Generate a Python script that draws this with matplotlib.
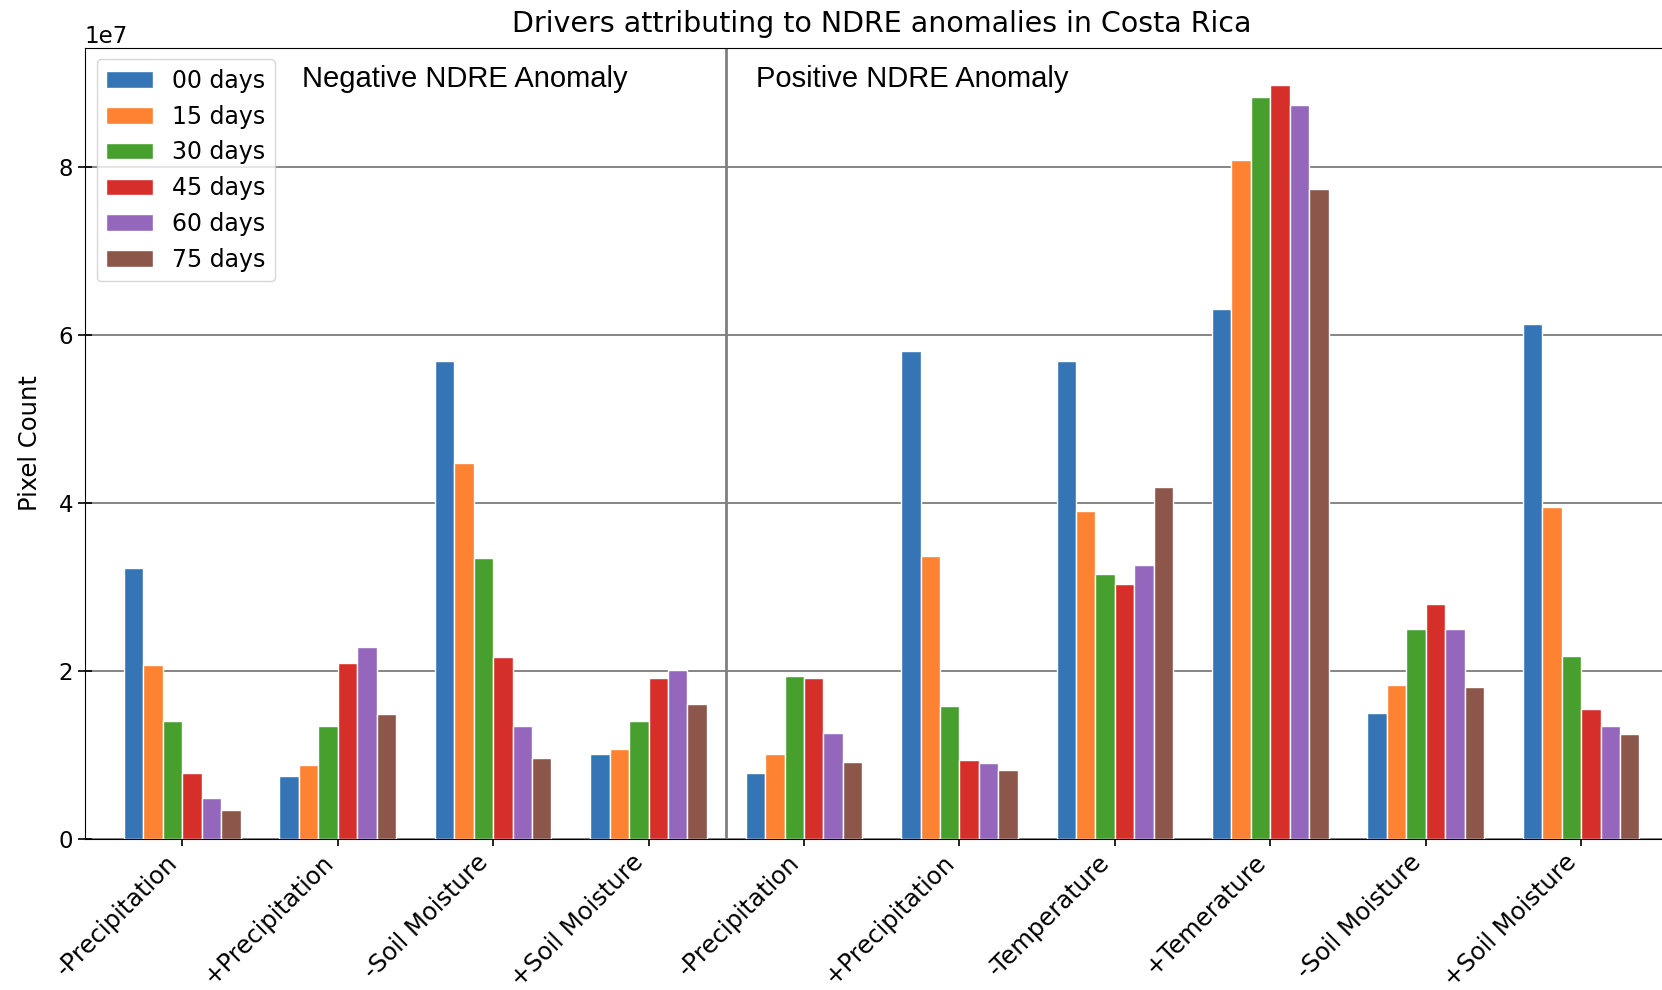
import numpy as np
import matplotlib
matplotlib.use("Agg")
import matplotlib.pyplot as plt

categories = ["-Precipitation", "+Precipitation", "-Soil Moisture", "+Soil Moisture",
              "-Precipitation", "+Precipitation", "-Temperature", "+Temerature",
              "-Soil Moisture", "+Soil Moisture"]
lags = ["00 days", "15 days", "30 days", "45 days", "60 days", "75 days"]

# pixel counts per driver (x1e7), one list per lag
days_00 = [3.22, 0.74, 5.68, 1.01, 0.78, 5.80, 5.68, 6.30, 1.50, 6.13]
days_15 = [2.07, 0.87, 4.47, 1.07, 1.01, 3.36, 3.90, 8.08, 1.83, 3.95]
days_30 = [1.40, 1.34, 3.34, 1.40, 1.94, 1.58, 3.15, 8.83, 2.49, 2.17]
days_45 = [0.78, 2.09, 2.16, 1.91, 1.91, 0.93, 3.03, 8.97, 2.79, 1.54]
days_60 = [0.48, 2.28, 1.34, 2.01, 1.26, 0.90, 3.26, 8.73, 2.49, 1.34]
days_75 = [0.34, 1.48, 0.96, 1.60, 0.91, 0.82, 4.18, 7.73, 1.80, 1.25]

series = [days_00, days_15, days_30, days_45, days_60, days_75]
colors = ["#3575b5", "#fd8231", "#47a02d", "#d62f2a", "#9467bd", "#8c564b"]

fig = plt.figure(figsize=(16.62, 9.90), dpi=100)
ax = fig.add_axes([0.051, 0.153, 1.010 - 0.051, 0.952 - 0.153])

x = np.arange(len(categories))
width = 0.125
for i, (vals, lab, col) in enumerate(zip(series, lags, colors)):
    ax.bar(x + (i - 2.5) * width, np.array(vals) * 1e7, width, label=lab,
           color=col, edgecolor="white", linewidth=1.0, zorder=3)

ax.axvline(3.5, color="#808080", linewidth=2, zorder=2)
ax.yaxis.grid(True, color="#858585", linewidth=1.4, zorder=0)
ax.set_axisbelow(True)

ax.set_xlim(-0.627, 9.627)
ax.set_xticks(x)
ax.set_xticklabels(categories, rotation=45, ha="right", fontsize=17.5)
ax.tick_params(axis="y", labelsize=16.5)
ax.tick_params(direction="inout", length=10, width=1.2)
ax.yaxis.get_offset_text().set_fontsize(16.5)
ax.set_ylabel("Pixel Count", fontsize=17.5, labelpad=12)
ax.set_title("Drivers attributing to NDRE anomalies in Costa Rica", fontsize=20.5, pad=11)

ax.text(0.1363, 0.960, "Negative NDRE Anomaly", transform=ax.transAxes,
        fontsize=21, family="Liberation Sans", va="center")
ax.text(0.4209, 0.960, "Positive NDRE Anomaly", transform=ax.transAxes,
        fontsize=21, family="Liberation Sans", va="center")

ax.legend(loc="upper left", fontsize=17, handlelength=2.0)

fig.savefig("out.png", dpi=100)
